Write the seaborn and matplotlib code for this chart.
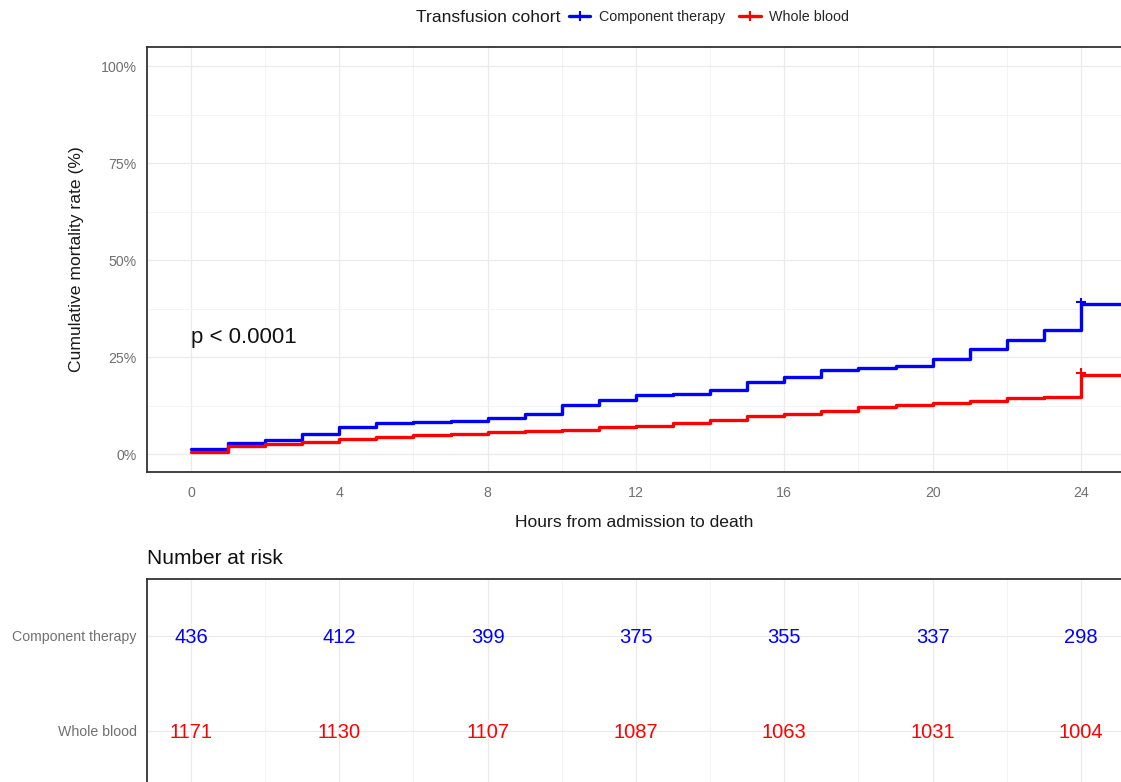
import numpy as np
import pandas as pd
import matplotlib
matplotlib.use("Agg")
import matplotlib.pyplot as plt
import seaborn as sns
from matplotlib.lines import Line2D
from matplotlib.ticker import MultipleLocator, FuncFormatter

# ---------------- data ----------------
cohorts = ["Component therapy", "Whole blood"]
cohort_colors = ["#0000FF", "#FF0000"]

step_hours = list(range(25))  # step start times (hours)
component_rate = [1.2, 2.8, 3.6, 5.3, 7.1, 7.9, 8.2, 8.5, 9.2, 10.3, 12.7, 14.0,
                  15.2, 15.5, 16.5, 18.7, 20.0, 21.7, 22.1, 22.8, 24.5, 27.0,
                  29.5, 31.9, 38.8]
whole_blood_rate = [0.5, 2.1, 2.6, 3.2, 3.8, 4.5, 4.9, 5.2, 5.6, 5.9, 6.2, 6.9,
                    7.2, 7.9, 8.8, 9.8, 10.3, 11.2, 12.1, 12.7, 13.3, 13.8,
                    14.4, 14.8, 20.3]
follow_up_end = 25.5
censor_hour = 24

risk_hours = [0, 4, 8, 12, 16, 20, 24]
component_at_risk = [436, 412, 399, 375, 355, 337, 298]
whole_blood_at_risk = [1171, 1130, 1107, 1087, 1063, 1031, 1004]

x_ticks = [0, 4, 8, 12, 16, 20, 24]
y_ticks = [0, 25, 50, 75, 100]

# ---------------- style ----------------
sns.set_style("white")
plt.rcParams["font.family"] = ["Liberation Sans", "DejaVu Sans"]

W, H = 1121, 782
fig = plt.figure(figsize=(W / 100, H / 100), dpi=100)

def fx(px):
    return px / W

def fy(py):
    return 1 - py / H

left = fx(147)
ax = fig.add_axes([left, fy(472), 1.0 - left, fy(46.7) - fy(472)])
ax2 = fig.add_axes([left, 0.0, 1.0 - left, fy(579)])

palette = dict(zip(cohorts, cohort_colors))

rows = []
for name, rates in zip(cohorts, [component_rate, whole_blood_rate]):
    hrs = step_hours + [follow_up_end]
    vals = rates + [rates[-1]]
    for h, v in zip(hrs, vals):
        rows.append({"hour": h, "rate": v, "cohort": name})
df = pd.DataFrame(rows)

sns.lineplot(data=df, x="hour", y="rate", hue="cohort", palette=palette,
             drawstyle="steps-post", estimator=None, lw=2.4, legend=False, ax=ax)

cens = pd.DataFrame({"hour": [censor_hour, censor_hour],
                     "rate": [component_rate[censor_hour] + 0.3, whole_blood_rate[censor_hour] + 0.6],
                     "cohort": cohorts})
sns.scatterplot(data=cens, x="hour", y="rate", hue="cohort", palette=palette,
                marker="+", s=45, linewidth=1.5, legend=False, ax=ax, zorder=5)

xmin, xmax = -1.187, 25.08
ax.set_xlim(xmin, xmax)
ax.set_ylim(-4.6, 105)
ax.set_xticks(x_ticks)
ax.set_yticks(y_ticks)
ax.yaxis.set_major_formatter(FuncFormatter(lambda v, p: f"{int(v)}%"))
ax.xaxis.set_minor_locator(MultipleLocator(2))
ax.yaxis.set_minor_locator(MultipleLocator(12.5))
ax.grid(True, which="major", color="#EBEBEB", lw=0.9)
ax.grid(True, which="minor", color="#F2F2F2", lw=0.6)
ax.set_axisbelow(True)

for a in (ax, ax2):
    for s in ["left", "top", "bottom"]:
        a.spines[s].set_color("#333333")
        a.spines[s].set_linewidth(1.3)
    a.spines["right"].set_visible(False)
    a.tick_params(axis="both", which="major", direction="out", length=4,
                  width=1, color="#333333", labelcolor="#707070", labelsize=10.2)
    a.tick_params(which="minor", length=0)
ax2.spines["bottom"].set_visible(False)

ax.set_xlabel("Hours from admission to death", fontsize=12.6, color="#1a1a1a", labelpad=11)
ax.set_ylabel("Cumulative mortality rate (%)", fontsize=12.6, color="#1a1a1a", labelpad=12)
ax.tick_params(axis="x", pad=6)

ax.text(0, 30, "p < 0.0001", fontsize=16, va="center", ha="left", color="#111111")

# legend
fig.text(fx(561), fy(17), "Transfusion cohort", fontsize=12.6, ha="right", va="center",
         color="#1a1a1a")
handles = [Line2D([0], [0], color=c, lw=2.4, marker="+", markersize=7, mew=1.5)
           for c in cohort_colors]
fig.legend(handles, cohorts, loc="center left", bbox_to_anchor=(fx(566), fy(17)),
           ncol=2, frameon=False, fontsize=10.3, handlelength=1.5, handletextpad=0.6,
           columnspacing=1.0, borderaxespad=0, borderpad=0.2)

# ---------------- risk table ----------------
ax2.set_xlim(xmin, xmax)
ax2.set_ylim(0.46, 2.6)
ax2.set_xticks(x_ticks)
ax2.set_xticklabels([])
ax2.tick_params(axis="x", length=0)
ax2.set_yticks([2, 1])
ax2.set_yticklabels(cohorts)
ax2.xaxis.set_minor_locator(MultipleLocator(2))
ax2.grid(True, which="major", color="#EBEBEB", lw=0.9)
ax2.grid(True, which="minor", axis="x", color="#F2F2F2", lw=0.6)
ax2.set_axisbelow(True)

for counts, yrow, col in [(component_at_risk, 2, cohort_colors[0]),
                          (whole_blood_at_risk, 1, cohort_colors[1])]:
    for h, n in zip(risk_hours, counts):
        ax2.text(h, yrow, str(n), ha="center", va="center_baseline", fontsize=14.5, color=col)

fig.text(left, fy(558), "Number at risk", fontsize=15, ha="left", va="center",
         color="#111111")

fig.savefig("out.png", dpi=100)
